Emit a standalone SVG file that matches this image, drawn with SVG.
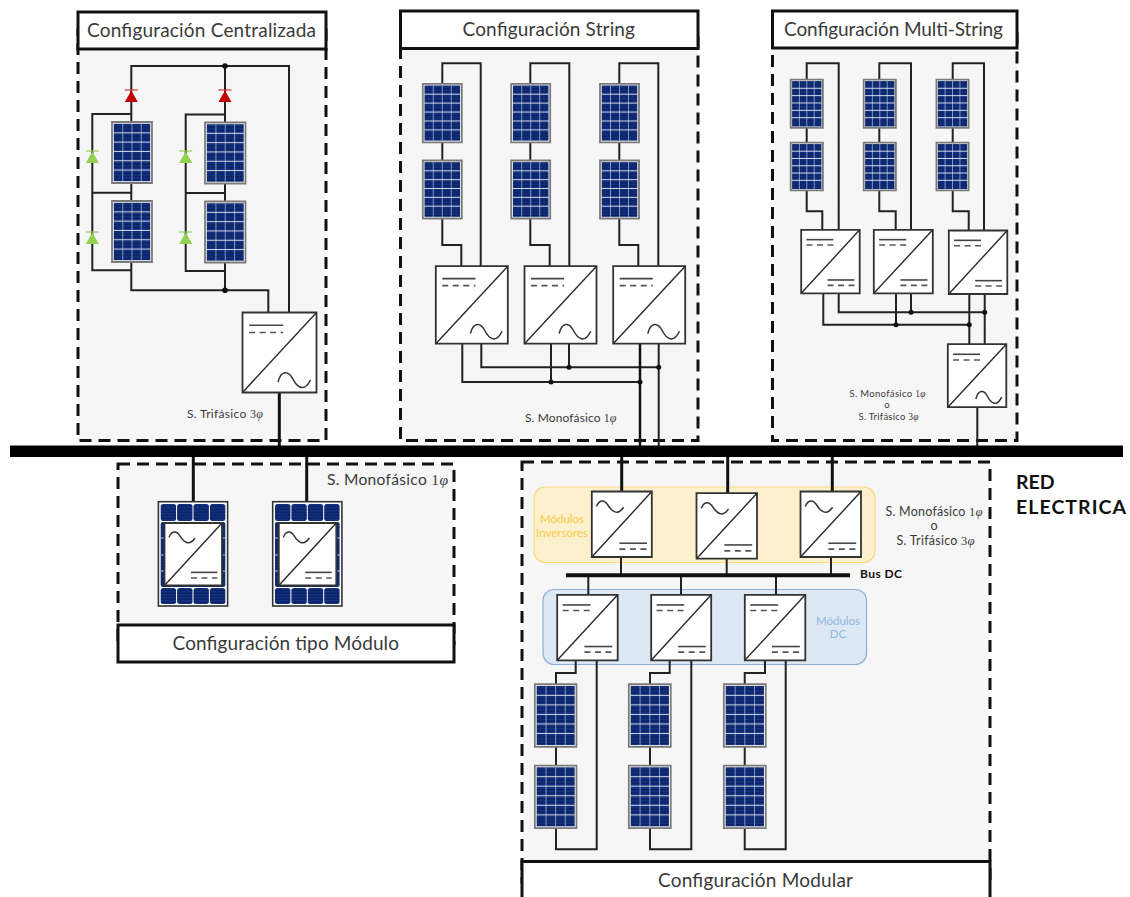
<svg xmlns="http://www.w3.org/2000/svg" width="1130" height="897" viewBox="0 0 1130 897">
<style>
text{font-family:"Lato","Noto Sans","Liberation Sans",sans-serif;fill:#3a3a3a}
.m{font-family:"Liberation Serif",serif;font-style:italic}
.n{font-family:"Liberation Serif",serif}
.cont{fill:#f6f6f6;stroke:#111;stroke-width:3;stroke-dasharray:12 7}
.title{fill:#fff;stroke:#111;stroke-width:3}
.tt{font-size:19px}
.w{fill:none;stroke:#222;stroke-width:2}
.wt{fill:none;stroke:#111;stroke-width:3}
.dot{fill:#111}
.s{vector-effect:non-scaling-stroke}
.box{fill:#fff;stroke:#333;stroke-width:1.800}
.diag{stroke:#2a2a2a;stroke-width:1.400;fill:none}
.dc{stroke:#444;stroke-width:1.600;fill:none}
.dd{stroke:#555;stroke-width:1.600;fill:none;stroke-dasharray:6 4.500}
.sine{stroke:#333;stroke-width:1.500;fill:none}
.bold{font-weight:700;fill:#111}
symbol{overflow:visible}
</style>
<defs>
<pattern id="stripe" width="40" height="3" patternUnits="userSpaceOnUse"><rect width="40" height="3" fill="#12307c"/><rect y="1.700" width="40" height="1.100" fill="#0a2060"/></pattern>
<symbol id="panel" viewBox="0 0 40 60" preserveAspectRatio="none">
<rect class="s" x="0.500" y="0.500" width="39" height="59" fill="#fff" stroke="#7a7a7a" stroke-width="1.800"/>
<rect x="2.200" y="2.200" width="35.600" height="55.600" fill="url(#stripe)"/>
<path class="s" d="M11 2V58M20 2V58M29 2V58" stroke="#9db0d8" stroke-width="0.800" fill="none"/>
<path class="s" d="M2 11H38M2 20H38M2 29H38M2 38H38M2 47H38" stroke="#e6ecf8" stroke-width="0.900" fill="none"/>
</symbol>
<symbol id="conv-dcac" viewBox="0 0 100 100" preserveAspectRatio="none">
<rect class="s box" x="0" y="0" width="100" height="100"/>
<path class="s diag" d="M0 100L100 0"/>
<path class="s dc" d="M9 16H55"/><path class="s dd" d="M9 25H55"/>
<path class="s sine" d="M48 87C52 72 62 72 68 83S84 100 92 84"/>
</symbol>
<symbol id="conv-dcdc" viewBox="0 0 100 100" preserveAspectRatio="none">
<rect class="s box" x="0" y="0" width="100" height="100"/>
<path class="s diag" d="M0 100L100 0"/>
<path class="s dc" d="M9 15.500H55"/><path class="s dd" d="M9 24H55"/>
<path class="s dc" d="M45 79H91"/><path class="s dd" d="M45 87.500H91"/>
</symbol>
<symbol id="conv-acdc" viewBox="0 0 100 100" preserveAspectRatio="none">
<rect class="s box" x="0" y="0" width="100" height="100"/>
<path class="s diag" d="M0 100L100 0"/>
<path class="s sine" d="M8 23C12 12 21 12 27 21S43 38 53 24"/>
<path class="s dc" d="M46 79H92"/><path class="s dd" d="M46 88H92"/>
</symbol>
<symbol id="module" viewBox="0 0 70.600 105.700" preserveAspectRatio="none">
<rect x="0.700" y="0.700" width="69.200" height="104.300" fill="#fff" stroke="#333" stroke-width="1.600"/>
<g fill="url(#stripe)">
<rect x="3" y="3" width="15.400" height="17" rx="2.500"/><rect x="19.400" y="3" width="15.400" height="17" rx="2.500"/><rect x="35.800" y="3" width="15.400" height="17" rx="2.500"/><rect x="52.200" y="3" width="15.400" height="17" rx="2.500"/>
<rect x="3" y="87" width="15.400" height="16" rx="2.500"/><rect x="19.400" y="87" width="15.400" height="16" rx="2.500"/><rect x="35.800" y="87" width="15.400" height="16" rx="2.500"/><rect x="52.200" y="87" width="15.400" height="16" rx="2.500"/>
<rect x="3" y="21" width="64.600" height="65" rx="2"/>
</g>
<path d="M3 37H68M3 54H68M3 70H68" stroke="#dfe6f5" stroke-width="0.800"/>
</symbol>
<polygon id="d" points="0,0.500 6.500,12 -6.500,12"/>
</defs>

<g id="bloque-centralizada"><rect class="cont" x="78" y="30" width="248" height="410.500"/><rect class="title" x="78" y="12" width="248" height="37"/><text class="tt" x="87" y="37" textLength="229" lengthAdjust="spacing">Configuración Centralizada</text></g>
<g id="bloque-string"><rect class="cont" x="400.500" y="30" width="297.500" height="410.500"/><rect class="title" x="400.500" y="11" width="297.500" height="37.500"/><text class="tt" x="462.500" y="36" textLength="172.500" lengthAdjust="spacing">Configuración String</text></g>
<g id="bloque-multistring"><rect class="cont" x="772.500" y="30" width="244.500" height="410.500"/><rect class="title" x="772.500" y="11" width="244.500" height="37"/><text class="tt" x="784" y="36" textLength="219" lengthAdjust="spacing">Configuración Multi-String</text></g>
<g id="bloque-modulo"><rect class="cont" x="118" y="464" width="336" height="180"/><rect class="title" x="118" y="625" width="336" height="37"/><text class="tt" x="172.500" y="650" textLength="226.500" lengthAdjust="spacing">Configuración tipo Módulo</text></g>
<g id="bloque-modular"><rect class="cont" x="522" y="462" width="468" height="420"/><rect class="title" x="522" y="861.500" width="468" height="50"/><text class="tt" x="658" y="887" textLength="195" lengthAdjust="spacing">Configuración Modular</text></g>

<g id="grupo-inversores"><rect x="534" y="487" width="341" height="75.500" rx="11" fill="#fdf0cd" stroke="#fbd983" stroke-width="1.200"/><text x="562" y="523" font-size="11.500" text-anchor="middle" style="fill:#f9cb47">Módulos</text><text x="562" y="537" font-size="11.500" text-anchor="middle" style="fill:#f9cb47">Inversores</text></g>
<g id="grupo-dc"><rect x="543" y="589.500" width="323.500" height="75" rx="11" fill="#dde8f5" stroke="#8fb0db" stroke-width="1.200"/><text x="838" y="625" font-size="11.500" text-anchor="middle" style="fill:#8fb7e2">Módulos</text><text x="838" y="638" font-size="11.500" text-anchor="middle" style="fill:#8fb7e2">DC</text></g>

<g id="conectores">
<path class="w" d="M131.300 122V66H289V312M225 66V122M131.300 114H92.300V270.300H131.300M92.300 192.700H131.300M131.300 183V201M131.300 262V290.300H268.300V312M225 114.500H185.700V271H225M185.700 193H225M225 183V201M225 263V290.300"/>
<path class="wt" d="M279.300 393V447"/>
<path class="w" d="M442.300 83V63.300H480.700V266M442.300 143V160M442.300 219V245H461.300V266M530.300 83V63.300H569.300V266M530.300 143V160M530.300 219V245H549.700V266M619.300 83V63.300H658.300V266M619.300 143V160M619.300 219V245H638.300V266"/>
<path class="w" d="M462.300 344V382H640M481.300 344V367.300H658.700M551 344V382M569 344V367.300M658.700 344V447"/>
<path class="wt" d="M640 344V447" style="stroke-width:2.500"/>
<path class="w" d="M806.700 80V63.300H838.700V229.500M806.700 128V142.500M806.700 190.500V211.300H822.300V229.500M879.300 80V63.300H911V229.500M879.300 128V142.500M879.300 190.500V211.300H895.700V229.500M952.700 80V63.300H984V230M952.700 128V142.500M952.700 190.500V211.300H968.700V230"/>
<path class="w" d="M823.300 294V324.700H969.300M838.700 294V312.300H984.700M896 294V324.700M911 294V312.300M969.300 294V344M984.700 294V344M977.300 408V447"/>
<path class="wt" d="M193.300 457V501M306.700 457V501M621.700 457V491M727.700 457V493M832.300 457V491"/>
<path class="w" d="M621 557V575M726.700 559V575M831 557V575M588.300 575V594.500M681 575V594.500M776 575V594.500"/>
<path class="w" d="M575.700 660.700V673H556V684M596.700 660.700V849.300H556V828.700M556 747V765M669.700 660.700V673H650V684M691.300 660.700V849.300H650V828.700M650 747V765M765 660.700V673H744.700V684M785.700 660.700V849.300H744.700V828.700M744.700 747V765"/>
<path d="M566 575.300H850" stroke="#111" stroke-width="4" fill="none"/>
<circle class="dot" cx="225" cy="66" r="2.800"/><circle class="dot" cx="225" cy="290.300" r="2.800"/>
<circle class="dot" cx="569" cy="367.300" r="2.500"/><circle class="dot" cx="658.700" cy="367.300" r="2.500"/><circle class="dot" cx="551" cy="382" r="2.500"/><circle class="dot" cx="640" cy="382" r="2.500"/>
<circle class="dot" cx="911" cy="312.300" r="2.500"/><circle class="dot" cx="984.700" cy="312.300" r="2.500"/><circle class="dot" cx="896" cy="324.700" r="2.500"/><circle class="dot" cx="969.300" cy="324.700" r="2.500"/>
</g>

<g id="red-electrica"><rect x="10" y="445.500" width="1113" height="11.500" fill="#000"/><text class="bold" x="1016" y="489" font-size="19.500">RED</text><text class="bold" x="1016" y="513.500" font-size="19.500" textLength="110" lengthAdjust="spacing">ELECTRICA</text></g>

<g id="diodo-r1" fill="#c00000"><use href="#d" x="131.300" y="90"/><path d="M124.800 90H137.800" stroke="#d33" stroke-width="1.200"/></g>
<g id="diodo-r2" fill="#c00000"><use href="#d" x="225" y="90"/><path d="M218.500 90H231.500" stroke="#d33" stroke-width="1.200"/></g>
<g id="diodo-g1" fill="#92d050"><use href="#d" x="92.300" y="151"/><path d="M85.800 151H98.800" stroke="#92d050" stroke-width="1.200"/></g>
<g id="diodo-g2" fill="#92d050"><use href="#d" x="92.300" y="232"/><path d="M85.800 232H98.800" stroke="#92d050" stroke-width="1.200"/></g>
<g id="diodo-g3" fill="#92d050"><use href="#d" x="185.700" y="151"/><path d="M179.200 151H192.200" stroke="#92d050" stroke-width="1.200"/></g>
<g id="diodo-g4" fill="#92d050"><use href="#d" x="185.700" y="232"/><path d="M179.200 232H192.200" stroke="#92d050" stroke-width="1.200"/></g>

<g id="panel-c1"><use href="#panel" x="111.500" y="121.500" width="41" height="62"/></g>
<g id="panel-c2"><use href="#panel" x="111.500" y="200.500" width="41" height="62"/></g>
<g id="panel-c3"><use href="#panel" x="204.500" y="122" width="41.500" height="62"/></g>
<g id="panel-c4"><use href="#panel" x="204.500" y="201" width="41.500" height="62"/></g>
<g id="conv-c"><use href="#conv-dcac" x="242.500" y="312.500" width="74" height="80"/></g>

<g id="panel-s1"><use href="#panel" x="422.300" y="83.300" width="40" height="59.500"/></g>
<g id="panel-s2"><use href="#panel" x="422.300" y="160" width="40" height="59"/></g>
<g id="panel-s3"><use href="#panel" x="510.700" y="83.300" width="40" height="59.500"/></g>
<g id="panel-s4"><use href="#panel" x="510.700" y="160" width="40" height="59"/></g>
<g id="panel-s5"><use href="#panel" x="599.500" y="83.300" width="40" height="59.500"/></g>
<g id="panel-s6"><use href="#panel" x="599.500" y="160" width="40" height="59"/></g>
<g id="conv-s1"><use href="#conv-dcac" x="435.800" y="266.200" width="72" height="77.500"/></g>
<g id="conv-s2"><use href="#conv-dcac" x="524.500" y="266.200" width="72" height="77.500"/></g>
<g id="conv-s3"><use href="#conv-dcac" x="613.200" y="266.200" width="72" height="77.500"/></g>

<g id="panel-m1"><use href="#panel" x="790.300" y="79.300" width="33" height="49"/></g>
<g id="panel-m2"><use href="#panel" x="790.300" y="142.300" width="33" height="48.500"/></g>
<g id="panel-m3"><use href="#panel" x="863.300" y="79.300" width="33" height="49"/></g>
<g id="panel-m4"><use href="#panel" x="863.300" y="142.300" width="33" height="48.500"/></g>
<g id="panel-m5"><use href="#panel" x="936" y="79.300" width="33" height="49"/></g>
<g id="panel-m6"><use href="#panel" x="936" y="142.300" width="33" height="48.500"/></g>
<g id="conv-m1"><use href="#conv-dcdc" x="801.200" y="229.800" width="58.500" height="63.500"/></g>
<g id="conv-m2"><use href="#conv-dcdc" x="873.800" y="229.800" width="59" height="63.500"/></g>
<g id="conv-m3"><use href="#conv-dcdc" x="948.800" y="230.500" width="58.500" height="63.500"/></g>
<g id="conv-m4"><use href="#conv-dcac" x="947.800" y="344.200" width="58.500" height="63"/></g>

<g id="modulo-1"><use href="#module" x="157.700" y="501" width="70.600" height="105.700"/><use href="#conv-acdc" x="164.500" y="523" width="57.500" height="62.500"/></g>
<g id="modulo-2"><use href="#module" x="272" y="501" width="70.600" height="105.700"/><use href="#conv-acdc" x="278.800" y="523" width="57.500" height="62.500"/></g>

<g id="inv-1"><use href="#conv-acdc" x="591.800" y="491.500" width="60" height="65.500"/></g>
<g id="inv-2"><use href="#conv-acdc" x="696.500" y="493.200" width="60.500" height="65.500"/></g>
<g id="inv-3"><use href="#conv-acdc" x="800.500" y="491.500" width="60.500" height="65.500"/></g>
<g id="dc-1"><use href="#conv-dcdc" x="557.200" y="594.800" width="60.500" height="65.500"/></g>
<g id="dc-2"><use href="#conv-dcdc" x="651.200" y="594.800" width="60" height="65.500"/></g>
<g id="dc-3"><use href="#conv-dcdc" x="744.800" y="594.800" width="60.500" height="65.500"/></g>
<g id="panel-d1"><use href="#panel" x="534.300" y="683.700" width="42.700" height="63.600"/></g>
<g id="panel-d2"><use href="#panel" x="534.300" y="765" width="42.700" height="63.700"/></g>
<g id="panel-d3"><use href="#panel" x="628.300" y="683.700" width="43" height="63.600"/></g>
<g id="panel-d4"><use href="#panel" x="628.300" y="765" width="43" height="63.700"/></g>
<g id="panel-d5"><use href="#panel" x="723.300" y="683.700" width="43" height="63.600"/></g>
<g id="panel-d6"><use href="#panel" x="723.300" y="765" width="43" height="63.700"/></g>

<g id="etiquetas">
<text x="187" y="418" font-size="12" textLength="76" lengthAdjust="spacing">S. Trifásico <tspan class="n">3</tspan><tspan class="m">φ</tspan></text>
<text x="525" y="421.500" font-size="12" textLength="91.500" lengthAdjust="spacing">S. Monofásico <tspan class="n">1</tspan><tspan class="m">φ</tspan></text>
<text x="327" y="485" font-size="15.500" textLength="121" lengthAdjust="spacing">S. Monofásico <tspan class="n">1</tspan><tspan class="m">φ</tspan></text>
<text x="849.500" y="396.500" font-size="9.500" textLength="76" lengthAdjust="spacing">S. Monofásico <tspan class="n">1</tspan><tspan class="m">φ</tspan></text>
<text x="887" y="408" font-size="9.500" text-anchor="middle">o</text>
<text x="858.500" y="419.500" font-size="9.500" textLength="60" lengthAdjust="spacing">S. Trifásico <tspan class="n">3</tspan><tspan class="m">φ</tspan></text>
<text x="885.500" y="516" font-size="12.500" textLength="97" lengthAdjust="spacing">S. Monofásico <tspan class="n">1</tspan><tspan class="m">φ</tspan></text>
<text x="934" y="530" font-size="12.500" text-anchor="middle">o</text>
<text x="896.500" y="545" font-size="12.500" textLength="78" lengthAdjust="spacing">S. Trifásico <tspan class="n">3</tspan><tspan class="m">φ</tspan></text>
<text class="bold" x="860" y="578" font-size="12" textLength="42" lengthAdjust="spacing">Bus DC</text>
</g>
</svg>
